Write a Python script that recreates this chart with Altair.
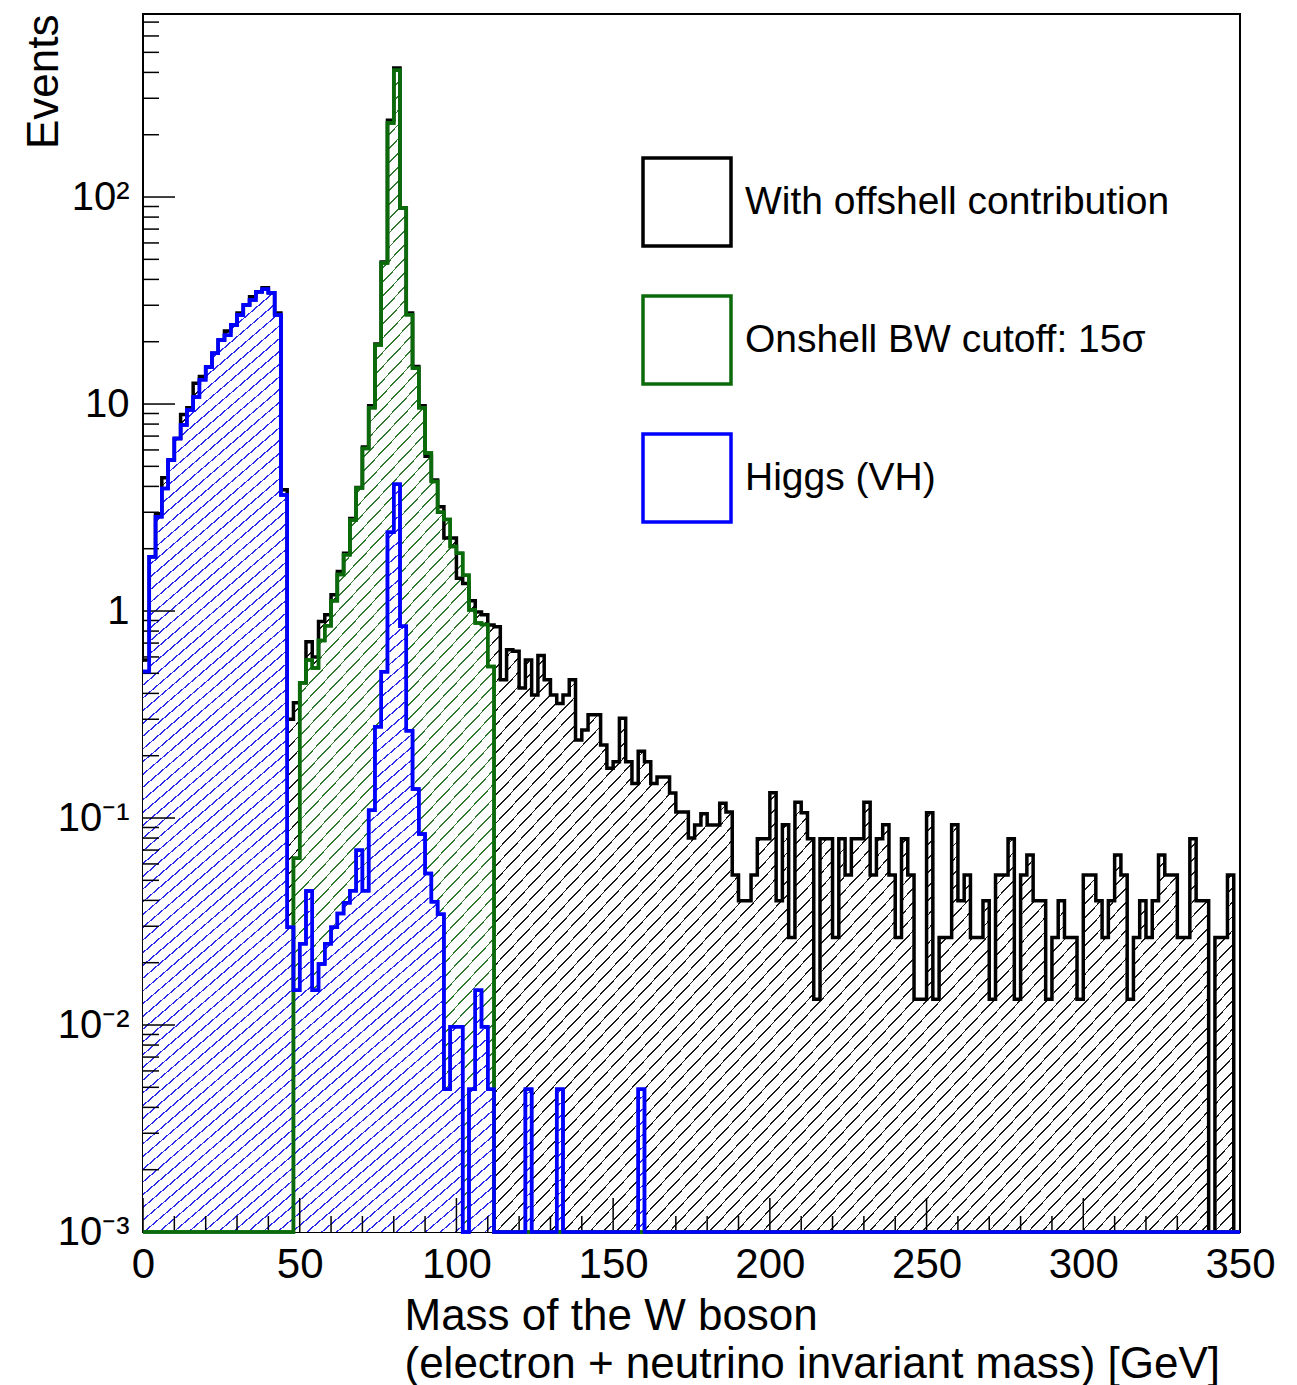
import altair as alt
import pandas as pd

# ---------------- data ----------------
X_MIN, X_MAX = 0, 350
BIN_WIDTH = 2
Y_MIN, Y_MAX = 1e-3, 766

SERIES = ["With offshell contribution", "Onshell BW cutoff: 15σ", "Higgs (VH)"]
LINE_COLORS = ["#000000", "#0b6b0b", "#0000ff"]
HATCH_COLORS = ["#1a1a1a", "#2f7a2f", "#2b2bea"]

# black: with offshell contribution (175 bins of 2 GeV)
OFFSHELL = [
    0.58, 1.83, 2.95, 4.4, 5.36, 6.82, 8.9, 9.6, 12.6, 13.6,
    15.1, 17.6, 20.4, 22.5, 24.1, 27.5, 30.1, 33.0, 34.9, 36.5,
    34.5, 27.5, 3.85, 0.30, 0.36, 0.45, 0.71, 0.60, 0.89, 0.96,
    1.2, 1.55, 1.9, 2.8, 3.95, 6.2, 9.8, 19.5, 48.5, 235,
    420, 88.5, 27.5, 15.2, 9.8, 5.6, 4.3, 3.19, 2.25, 2.25,
    1.44, 1.36, 1.12, 0.99, 0.96, 0.855, 0.84, 0.465, 0.65, 0.64,
    0.425, 0.58, 0.393, 0.61, 0.465, 0.393, 0.357, 0.393, 0.465, 0.238,
    0.266, 0.315, 0.315, 0.225, 0.174, 0.187, 0.303, 0.187, 0.147, 0.21,
    0.187, 0.147, 0.158, 0.158, 0.132, 0.107, 0.107, 0.080, 0.0925, 0.105,
    0.0925, 0.0925, 0.118, 0.107, 0.053, 0.0398, 0.0398, 0.053, 0.0795, 0.0795,
    0.1325, 0.0398, 0.0928, 0.0265, 0.119, 0.106, 0.0795, 0.0133, 0.0795, 0.0795,
    0.0265, 0.0795, 0.053, 0.0795, 0.0795, 0.119, 0.053, 0.0795, 0.0928, 0.053,
    0.0265, 0.0795, 0.053, 0.0133, 0.0133, 0.106, 0.0133, 0.0265, 0.0265, 0.0928,
    0.0398, 0.053, 0.0265, 0.0265, 0.0398, 0.0133, 0.053, 0.053, 0.0795, 0.0133,
    0.053, 0.0663, 0.0398, 0.0398, 0.0133, 0.0265, 0.0398, 0.0265, 0.0265, 0.0133,
    0.053, 0.053, 0.0398, 0.0265, 0.0398, 0.0663, 0.053, 0.0133, 0.0265, 0.0398,
    0.0265, 0.0398, 0.0663, 0.053, 0.053, 0.0265, 0.0265, 0.0795, 0.0398, 0.0398,
    0.0, 0.0265, 0.0265, 0.053, 0.0,
]

# green: onshell BW cutoff 15 sigma
ONSHELL = [
    0, 0, 0, 0, 0, 0, 0, 0, 0, 0,
    0, 0, 0, 0, 0, 0, 0, 0, 0, 0,
    0, 0, 0, 0, 0.064, 0.45, 0.58, 0.53, 0.72, 0.85,
    1.12, 1.5, 1.87, 2.75, 3.93, 6.1, 9.6, 19.3, 48.0, 228,
    410, 88.5, 27.0, 14.9, 9.6, 5.8, 4.22, 3.0, 2.77, 2.05,
    1.9, 1.49, 1.01, 0.875, 0.86, 0.54, 0, 0, 0, 0,
    0, 0, 0, 0, 0, 0, 0, 0, 0, 0,
    0, 0, 0, 0, 0, 0, 0, 0, 0, 0,
    0, 0, 0, 0, 0, 0, 0, 0, 0, 0,
    0, 0, 0, 0, 0, 0, 0, 0, 0, 0,
    0, 0, 0, 0, 0, 0, 0, 0, 0, 0,
    0, 0, 0, 0, 0, 0, 0, 0, 0, 0,
    0, 0, 0, 0, 0, 0, 0, 0, 0, 0,
    0, 0, 0, 0, 0, 0, 0, 0, 0, 0,
    0, 0, 0, 0, 0, 0, 0, 0, 0, 0,
    0, 0, 0, 0, 0, 0, 0, 0, 0, 0,
    0, 0, 0, 0, 0, 0, 0, 0, 0, 0,
    0, 0, 0, 0, 0,
]

# blue: Higgs (VH)
HIGGS = [
    0.51, 1.83, 2.85, 3.91, 5.36, 6.82, 7.92, 9.36, 10.8, 13.1,
    15.1, 17.6, 20.4, 21.5, 24.1, 26.9, 30.1, 31.8, 34.9, 35.8,
    34.5, 26.9, 3.63, 0.0297, 0.0147, 0.0247, 0.0444, 0.0147, 0.0197, 0.0247,
    0.0297, 0.0346, 0.039, 0.0445, 0.0698, 0.0445, 0.109, 0.276, 0.509, 2.4,
    4.1, 0.845, 0.264, 0.138, 0.0838, 0.054, 0.0394, 0.0343, 0.0049, 0.0098,
    0.0098, 0, 0.0049, 0.0147, 0.0098, 0.0049, 0, 0, 0, 0,
    0, 0.0049, 0, 0, 0, 0, 0.0049, 0, 0, 0,
    0, 0, 0, 0, 0, 0, 0, 0, 0, 0.0049,
    0, 0, 0, 0, 0, 0, 0, 0, 0, 0,
    0, 0, 0, 0, 0, 0, 0, 0, 0, 0,
    0, 0, 0, 0, 0, 0, 0, 0, 0, 0,
    0, 0, 0, 0, 0, 0, 0, 0, 0, 0,
    0, 0, 0, 0, 0, 0, 0, 0, 0, 0,
    0, 0, 0, 0, 0, 0, 0, 0, 0, 0,
    0, 0, 0, 0, 0, 0, 0, 0, 0, 0,
    0, 0, 0, 0, 0, 0, 0, 0, 0, 0,
    0, 0, 0, 0, 0, 0, 0, 0, 0, 0,
    0, 0, 0, 0, 0,
]

X_MAJOR = [0, 50, 100, 150, 200, 250, 300, 350]
X_MINOR = [10, 20, 30, 40, 60, 70, 80, 90, 110, 120, 130, 140, 160, 170, 180,
           190, 210, 220, 230, 240, 260, 270, 280, 290, 310, 320, 330, 340]
Y_MAJOR = [0.001, 0.01, 0.1, 1, 10, 100]
Y_MINOR = [0.002, 0.003, 0.004, 0.005, 0.006, 0.007, 0.008, 0.009,
           0.02, 0.03, 0.04, 0.05, 0.06, 0.07, 0.08, 0.09,
           0.2, 0.3, 0.4, 0.5, 0.6, 0.7, 0.8, 0.9,
           2, 3, 4, 5, 6, 7, 8, 9,
           20, 30, 40, 50, 60, 70, 80, 90,
           200, 300, 400, 500, 600, 700]

X_TITLE = ["Mass of the W boson", "(electron + neutrino invariant mass) [GeV]"]
Y_TITLE = "Events"

# ---------------- build tables ----------------
def hist_rows(values, name):
    rows = [{"x": i * BIN_WIDTH, "v": v, "series": name} for i, v in enumerate(values)]
    rows.append({"x": X_MAX, "v": values[-1], "series": name})
    return rows

df = pd.DataFrame(hist_rows(OFFSHELL, SERIES[0]) + hist_rows(ONSHELL, SERIES[1])
                  + hist_rows(HIGGS, SERIES[2]))

W, H = 1097, 1218
FONT = "Liberation Sans"

xscale = alt.Scale(domain=[X_MIN, X_MAX], nice=False, zero=False)
yscale = alt.Scale(type="log", domain=[Y_MIN, Y_MAX], nice=False, clamp=True)


def hatch(color, n, frac=0.13):
    stops = []
    for i in range(n):
        a = round(i / n, 6)
        b = round((i + frac) / n, 6)
        c = round((i + 1) / n, 6)
        stops += [alt.GradientStop(offset=a, color=color),
                  alt.GradientStop(offset=b, color=color),
                  alt.GradientStop(offset=b, color="#ffffff"),
                  alt.GradientStop(offset=c, color="#ffffff")]
    return alt.LinearGradient(gradient="linear", stops=stops, x1=0, y1=0, x2=1, y2=1)


base = alt.Chart(df).transform_calculate(yv="max(datum.v, 0.001)")

ylabel_expr = ("round(log(datum.value)/LN10) == 2 ? '10²' : "
               "round(log(datum.value)/LN10) == 1 ? '10' : "
               "round(log(datum.value)/LN10) == 0 ? '1' : "
               "round(log(datum.value)/LN10) == -1 ? '10⁻¹' : "
               "round(log(datum.value)/LN10) == -2 ? '10⁻²' : '10⁻³'")

x_axis = alt.Axis(values=X_MAJOR, ticks=False, domain=False, grid=False,
                  labelFontSize=42, labelFont=FONT, labelPadding=12, labelFlush=False,
                  labelOverlap=False, labelColor="black",
                  title=X_TITLE, titleFont=FONT, titleFontSize=44, titleFontWeight="normal",
                  titleAlign="left", titleX=261, titleY=62, titleBaseline="top",
                  titleLineHeight=48, titleColor="black")
y_axis = alt.Axis(values=Y_MAJOR, ticks=False, domain=False, grid=False,
                  labelExpr=ylabel_expr, labelFontSize=40, labelFont=FONT,
                  labelPadding=14, labelFlush=False, labelOverlap=False, labelColor="black",
                  title=Y_TITLE, titleFont=FONT, titleFontSize=44, titleFontWeight="normal",
                  titleAngle=270, titleAlign="right", titleBaseline="alphabetic",
                  titleX=-86, titleY=0, titleColor="black")

NSTRIPES = [165, 165, 148]
areas = []
for name, hc, n in zip(SERIES, HATCH_COLORS, NSTRIPES):
    enc = dict(x=alt.X("x:Q", scale=xscale), y=alt.Y("yv:Q", scale=yscale),
               y2=alt.value("height"))
    if not areas:
        enc = dict(x=alt.X("x:Q", scale=xscale, axis=x_axis),
                   y=alt.Y("yv:Q", scale=yscale, axis=y_axis),
                   y2=alt.value("height"))
    areas.append(
        base.transform_filter(alt.datum.series == name)
        .mark_area(interpolate="step-after", fill=hatch(hc, n))
        .encode(**enc)
    )

ytick_major = alt.Chart(pd.DataFrame({"yv": Y_MAJOR})).mark_rule(color="black", strokeWidth=1.5).encode(
    y=alt.Y("yv:Q", scale=yscale), x=alt.value(0), x2=alt.value(32))
ytick_minor = alt.Chart(pd.DataFrame({"yv": Y_MINOR})).mark_rule(color="black", strokeWidth=1.5).encode(
    y=alt.Y("yv:Q", scale=yscale), x=alt.value(0), x2=alt.value(16))
xtick_major = alt.Chart(pd.DataFrame({"x": X_MAJOR})).mark_rule(color="black", strokeWidth=1.5).encode(
    x=alt.X("x:Q", scale=xscale), y=alt.value(H), y2=alt.value(H - 34))
xtick_minor = alt.Chart(pd.DataFrame({"x": X_MINOR})).mark_rule(color="black", strokeWidth=1.5).encode(
    x=alt.X("x:Q", scale=xscale), y=alt.value(H), y2=alt.value(H - 16))

legend = alt.Legend(title=None, orient="none", legendX=498, legendY=142,
                    symbolType="square", symbolSize=7744, symbolStrokeWidth=3.5,
                    symbolFillColor="white", symbolOpacity=1,
                    labelFont=FONT, labelFontSize=39, labelColor="black", labelOffset=12,
                    labelLimit=900, rowPadding=36, padding=0)

lines_all = base.mark_line(interpolate="step-after", strokeWidth=3.5, strokeJoin="miter").encode(
    x=alt.X("x:Q", scale=xscale),
    y=alt.Y("yv:Q", scale=yscale),
    stroke=alt.Stroke("series:N", scale=alt.Scale(domain=SERIES, range=LINE_COLORS), legend=legend),
    detail="series:N",
)
line_green = base.transform_filter(alt.datum.series == SERIES[1]).mark_line(
    interpolate="step-after", strokeWidth=3.5, color=LINE_COLORS[1]).encode(
    x=alt.X("x:Q", scale=xscale), y=alt.Y("yv:Q", scale=yscale))
line_blue = base.transform_filter(alt.datum.series == SERIES[2]).mark_line(
    interpolate="step-after", strokeWidth=3.5, color=LINE_COLORS[2]).encode(
    x=alt.X("x:Q", scale=xscale), y=alt.Y("yv:Q", scale=yscale))

chart = alt.layer(
    *areas, ytick_major, ytick_minor, xtick_major, xtick_minor,
    lines_all, line_green, line_blue,
).properties(
    width=W, height=H,
    autosize=alt.AutoSizeParams(type="none"),
    padding={"left": 143, "top": 14, "right": 57, "bottom": 153},
    background="white",
).configure_view(stroke="black", strokeWidth=2)

chart.save("out.html", embed_options={"renderer": "svg", "actions": False})
